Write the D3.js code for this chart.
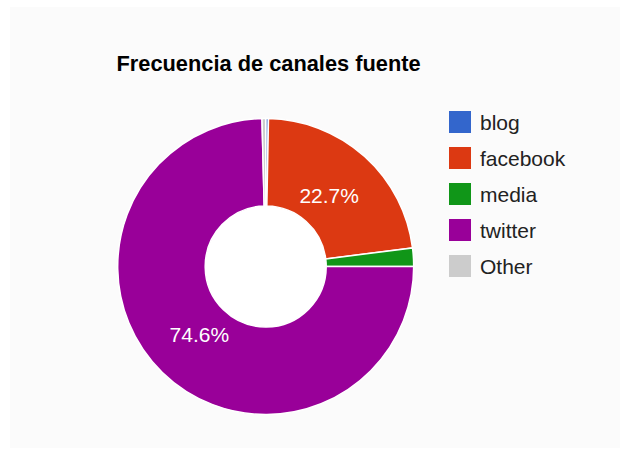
<!DOCTYPE html>
<html>
<head>
<meta charset="utf-8">
<script src="https://cdn.jsdelivr.net/npm/d3@7"></script>
<style>
  body { margin: 0; background: #fff; }
  text { font-family: Arial, "Liberation Sans", sans-serif; }
</style>
</head>
<body>
<div id="chart"></div>
<script>
// data
const categories = ["blog", "facebook", "media", "twitter", "Other"];
const values = [0.3, 22.7, 2.0, 74.6, 0.4];
const colors = ["#3366cc", "#dc3912", "#109618", "#990099", "#cccccc"];
const title = "Frecuencia de canales fuente";

const width = 629, height = 455;
const cx = 265.7, cy = 266.5, outerR = 148, innerR = 60.5, labelR = 95;

const svg = d3.select("#chart").append("svg")
  .attr("width", width).attr("height", height);

// background panel
svg.append("rect")
  .attr("x", 10).attr("y", 7)
  .attr("width", 610).attr("height", 441)
  .attr("fill", "#fbfbfb");

svg.append("text")
  .attr("x", 116.5).attr("y", 71)
  .attr("font-size", 21.8).attr("font-weight", "bold")
  .attr("fill", "#000")
  .text(title);

const total = d3.sum(values);
const pie = d3.pie().sort(null).value(d => d.v);
const slices = pie(categories.map((c, i) => ({ c, v: values[i], col: colors[i] })));

const arc = d3.arc().innerRadius(innerR).outerRadius(outerR);
const labelArc = d3.arc().innerRadius(labelR).outerRadius(labelR);

const g = svg.append("g").attr("transform", `translate(${cx},${cy})`);

g.append("circle").attr("r", innerR).attr("fill", "#fff");

g.selectAll("path.slice")
  .data(slices)
  .join("path")
  .classed("slice", true)
  .attr("d", arc)
  .attr("fill", d => d.data.col)
  .attr("stroke", "#fff")
  .attr("stroke-width", 1.5);

// only label slices big enough
g.selectAll("text.pct")
  .data(slices.filter(d => d.data.v / total > 0.05))
  .join("text")
  .classed("pct", true)
  .attr("transform", d => `translate(${labelArc.centroid(d)})`)
  .attr("text-anchor", "middle")
  .attr("dy", "0.36em")
  .attr("font-size", 21)
  .attr("fill", "#fff")
  .text(d => d3.format(".1f")(d.data.v / total * 100) + "%");

// legend
const legend = svg.append("g").attr("transform", "translate(449,111)");
const rows = legend.selectAll("g")
  .data(categories)
  .join("g")
  .attr("transform", (d, i) => `translate(0,${i * 36})`);

rows.append("rect")
  .attr("width", 22).attr("height", 22)
  .attr("fill", (d, i) => colors[i]);

rows.append("text")
  .attr("x", 31).attr("y", 11)
  .attr("dy", "0.36em")
  .attr("font-size", 21)
  .attr("fill", "#222")
  .text(d => d);
</script>
</body>
</html>
